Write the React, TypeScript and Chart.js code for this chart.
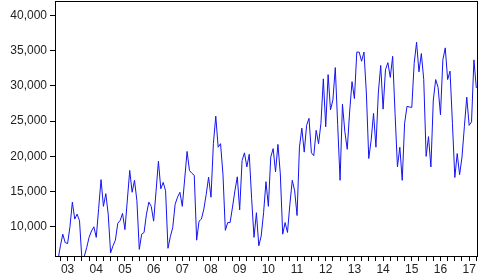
import React, { useEffect, useRef } from "react";
import { Chart, registerables } from "chart.js";

Chart.register(...registerables);

// Monthly observations (index 0 = first month shown)
const seriesValues: number[] = [
  5300, 7300, 8950, 7760, 7620, 10000, 13500, 11100, 11800, 10850, 5300, 5800,
  7050, 8500, 9400, 10000, 8500, 12600, 16700, 12900, 14700, 11800, 6300, 7300,
  8100, 10500, 10900, 11900, 9600, 13800, 18000, 14900, 16600, 13700, 6800, 8950,
  9200, 11800, 13500, 12900, 10800, 15000, 19300, 15400, 16300, 15100, 6950, 8600,
  9900, 13200, 14200, 14900, 12900, 16800, 20700, 18000, 17600, 17300, 8100, 10800,
  11100, 12500, 14600, 17050, 14200, 21800, 25700, 21300, 21800, 17500, 9500, 10600,
  10600, 12800, 15100, 17100, 12400, 19400, 20500, 18500, 20300, 14000, 8500, 12000,
  7300, 8700, 12000, 16400, 12900, 19900, 21100, 17800, 21700, 17500, 8950, 10600,
  9200, 13200, 16600, 15100, 11600, 21300, 24000, 20600, 24400, 25400, 20500, 20100,
  23700, 21800, 24700, 31000, 24200, 31600, 26600, 28000, 32600, 24500, 16600, 27400,
  23500, 21000, 26300, 30600, 28200, 34800, 34800, 33500, 34800, 29000, 19700, 22300,
  26100, 21300, 29000, 32900, 26700, 32300, 33300, 31200, 34200, 26100, 18500, 21300,
  16600, 24700, 27100, 27000, 26950, 33200, 36200, 32000, 34600, 30900, 20000, 22800,
  18500, 28000, 30900, 29800, 25900, 33700, 35400, 30900, 32100, 24700, 17000, 20400,
  17400, 19900, 24200, 28400, 24400, 24900, 33700, 29700,
];

const yearLabels: string[] = [
  "03", "04", "05", "06", "07", "08", "09", "10", "11", "12", "13", "14", "15", "16", "17",
];

const yTickValues: number[] = [10000, 15000, 20000, 25000, 30000, 35000, 40000];

const FIRST_LABEL_INDEX = 4; // month index of the first year label
const MONTHS_PER_YEAR = 12;
const TICK_STEP = 3;

const framePlugin = {
  id: "frame",
  afterDraw(chart: any) {
    const { ctx, chartArea } = chart;
    ctx.save();
    ctx.strokeStyle = "#000";
    ctx.lineWidth = 1;
    ctx.strokeRect(
      chartArea.left + 0.5,
      chartArea.top + 0.5,
      chartArea.right - chartArea.left - 1,
      chartArea.bottom - chartArea.top - 1
    );
    ctx.restore();
  },
};

export default function App() {
  const canvasRef = useRef<HTMLCanvasElement | null>(null);

  useEffect(() => {
    if (!canvasRef.current) return;
    const data = seriesValues.map((v, i) => ({ x: i, y: v }));
    const chart = new Chart(canvasRef.current, {
      type: "line",
      data: {
        datasets: [
          {
            data,
            borderColor: "rgb(20,20,240)",
            borderWidth: 1,
            pointRadius: 0,
            tension: 0,
            fill: false,
            clip: 0,
          } as any,
        ],
      },
      plugins: [framePlugin],
      options: {
        animation: false,
        responsive: false,
        maintainAspectRatio: false,
        layout: { padding: { top: 1, right: 7, left: 0, bottom: 0 } },
        plugins: {
          legend: { display: false },
          tooltip: { enabled: false },
        },
        scales: {
          x: {
            type: "linear",
            min: -1.26,
            max: seriesValues.length - 1 + 0.7,
            border: { display: false },
            grid: {
              display: true,
              drawOnChartArea: false,
              drawTicks: true,
              tickLength: 4,
              color: "#000",
              lineWidth: 1,
            },
            ticks: {
              autoSkip: false,
              maxRotation: 0,
              minRotation: 0,
              padding: 1,
              color: "#222",
              font: { family: "'Liberation Sans', Arial, sans-serif", size: 12 },
              callback: (value: any) => {
                const v = Number(value);
                const k = (v - FIRST_LABEL_INDEX) / MONTHS_PER_YEAR;
                if (Number.isInteger(k) && k >= 0 && k < yearLabels.length) return yearLabels[k];
                return "";
              },
            },
            afterBuildTicks: (scale: any) => {
              const ticks: any[] = [];
              for (let i = 1; i < seriesValues.length; i += TICK_STEP) ticks.push({ value: i });
              scale.ticks = ticks;
            },
            afterFit: (scale: any) => {
              scale.height = 23;
              scale.paddingLeft = 0;
              scale.paddingRight = 0;
            },
          },
          y: {
            type: "linear",
            min: 5714,
            max: 42050,
            border: { display: false },
            grid: {
              display: true,
              drawOnChartArea: false,
              drawTicks: true,
              tickLength: 5,
              color: "#000",
              lineWidth: 1,
            },
            ticks: {
              padding: 3,
              color: "#222",
              font: { family: "'Liberation Sans', Arial, sans-serif", size: 12 },
              callback: (value: any) => Number(value).toLocaleString("en-US"),
            },
            afterBuildTicks: (scale: any) => {
              scale.ticks = yTickValues.map((v) => ({ value: v }));
            },
            afterFit: (scale: any) => {
              scale.width = 55;
              scale.paddingTop = 0;
              scale.paddingBottom = 0;
            },
          },
        },
      } as any,
    });
    return () => chart.destroy();
  }, []);

  return (
    <div style={{ position: "absolute", left: 0, top: 0, width: 485, height: 280, background: "#fff" }}>
      <canvas ref={canvasRef} width={485} height={280} style={{ width: 485, height: 280, display: "block" }} />
    </div>
  );
}
